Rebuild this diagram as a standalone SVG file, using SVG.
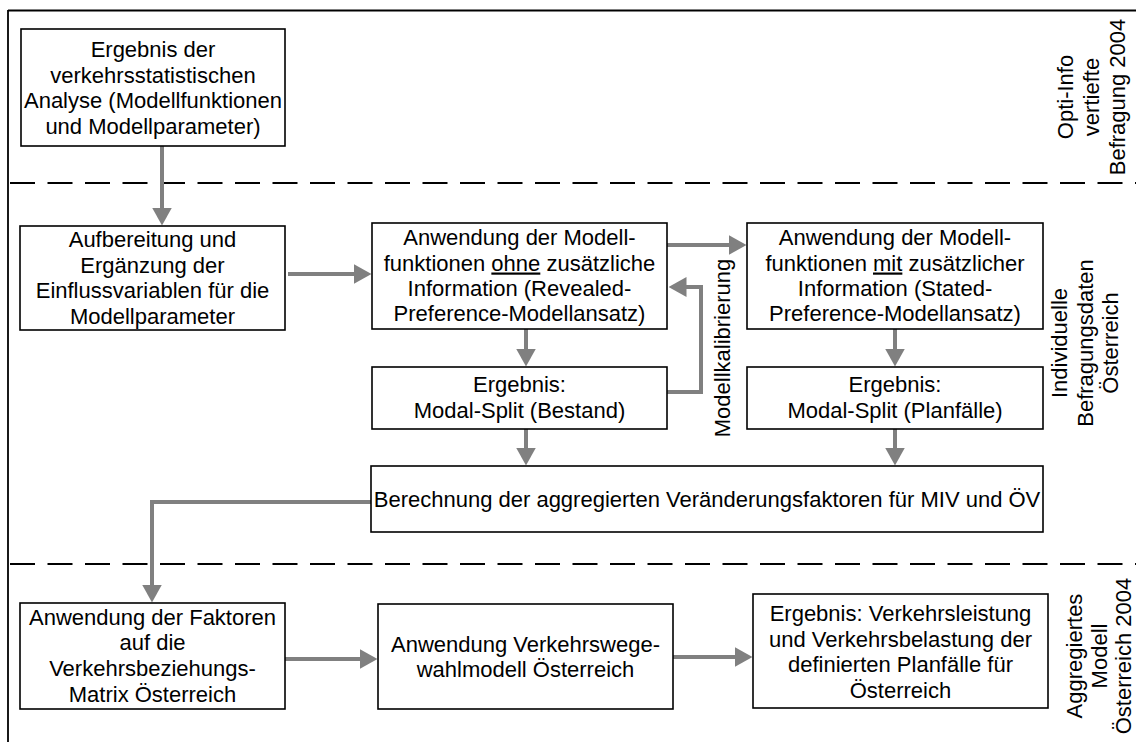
<svg xmlns="http://www.w3.org/2000/svg" width="1136" height="742" viewBox="0 0 1136 742">
<style>
  .box { fill: #ffffff; stroke: #000000; stroke-width: 1.6; }
  .t { font-family: "Liberation Sans", Arial, sans-serif; font-size: 22px; fill: #000000; text-anchor: middle; }
  .frame { stroke: #000000; stroke-width: 1.8; fill: none; }
  .dash { stroke: #000000; stroke-width: 1.8; fill: none; stroke-dasharray: 25 12.5; }
  .conn { stroke: #808080; stroke-width: 4; fill: none; marker-end: url(#ah); }
</style>
<defs>
  <marker id="ah" markerUnits="userSpaceOnUse" markerWidth="18" markerHeight="20" viewBox="0 0 18 20" refX="0.5" refY="10" orient="auto">
    <path d="M0,0 L18,10 L0,20 z" fill="#808080"/>
  </marker>
</defs>
<rect x="0" y="0" width="1136" height="742" fill="#ffffff"/>

<g id="frame">
  <line class="frame" x1="8" y1="10.5" x2="1136" y2="10.5"/>
  <line class="frame" x1="8" y1="10" x2="8" y2="742"/>
  <line class="dash" x1="10" y1="183" x2="1136" y2="183"/>
  <line class="dash" x1="10" y1="564" x2="1136" y2="564"/>
</g>

<g id="connectors">
  <path class="conn" d="M162,146 L162,208"/>
  <path class="conn" d="M288,274 L354,274"/>
  <path class="conn" d="M526,329 L526,349"/>
  <path class="conn" d="M667,392 L701,392 L701,287 L686,287"/>
  <path class="conn" d="M667,245 L729,245"/>
  <path class="conn" d="M895,329 L895,349"/>
  <path class="conn" d="M526,429 L526,448"/>
  <path class="conn" d="M895,429 L895,448"/>
  <path class="conn" d="M371,502 L152,502 L152,585"/>
  <path class="conn" d="M285,659 L360,659"/>
  <path class="conn" d="M673,657 L735,657"/>
  <text class="t" transform="translate(730,348) rotate(-90)" x="0" y="0">Modellkalibrierung</text>
</g>

<g id="n1">
  <rect class="box" x="21" y="29" width="264" height="117"/>
  <text class="t" x="153" y="57">Ergebnis der</text>
  <text class="t" x="153" y="82.5">verkehrsstatistischen</text>
  <text class="t" x="153" y="108">Analyse (Modellfunktionen</text>
  <text class="t" x="153" y="133.5">und Modellparameter)</text>
</g>

<g id="n2">
  <rect class="box" x="20" y="226" width="265" height="104"/>
  <text class="t" x="152.5" y="247">Aufbereitung und</text>
  <text class="t" x="152.5" y="272.5">Ergänzung der</text>
  <text class="t" x="152.5" y="298">Einflussvariablen für die</text>
  <text class="t" x="152.5" y="323.5">Modellparameter</text>
</g>

<g id="n3">
  <rect class="box" x="372" y="223" width="295" height="106"/>
  <text class="t" x="519.5" y="245">Anwendung der Modell-</text>
  <text class="t" x="519.5" y="270.5">funktionen <tspan text-decoration="underline">ohne</tspan> zusätzliche</text>
  <text class="t" x="519.5" y="296">Information (Revealed-</text>
  <text class="t" x="519.5" y="321">Preference-Modellansatz)</text>
</g>

<g id="n4">
  <rect class="box" x="372" y="367" width="295" height="62"/>
  <text class="t" x="519.5" y="392">Ergebnis:</text>
  <text class="t" x="519.5" y="417.5">Modal-Split (Bestand)</text>
</g>

<g id="n5">
  <rect class="box" x="747" y="223" width="296" height="106"/>
  <text class="t" x="895" y="245">Anwendung der Modell-</text>
  <text class="t" x="895" y="270.5">funktionen <tspan text-decoration="underline">mit</tspan> zusätzlicher</text>
  <text class="t" x="895" y="296">Information (Stated-</text>
  <text class="t" x="895" y="321">Preference-Modellansatz)</text>
</g>

<g id="n6">
  <rect class="box" x="747" y="367" width="296" height="62"/>
  <text class="t" x="895" y="392">Ergebnis:</text>
  <text class="t" x="895" y="417.5">Modal-Split (Planfälle)</text>
</g>

<g id="n7">
  <rect class="box" x="371" y="466" width="672" height="66"/>
  <text class="t" x="707" y="506.5">Berechnung der aggregierten Veränderungsfaktoren für MIV und ÖV</text>
</g>

<g id="n8">
  <rect class="box" x="20" y="603" width="265" height="106"/>
  <text class="t" x="152.5" y="624.5">Anwendung der Faktoren</text>
  <text class="t" x="152.5" y="650">auf die</text>
  <text class="t" x="152.5" y="676">Verkehrsbeziehungs-</text>
  <text class="t" x="152.5" y="701.5">Matrix Österreich</text>
</g>

<g id="n9">
  <rect class="box" x="378" y="604" width="295" height="105"/>
  <text class="t" x="525.5" y="651.5">Anwendung Verkehrswege-</text>
  <text class="t" x="525.5" y="677">wahlmodell Österreich</text>
</g>

<g id="n10">
  <rect class="box" x="753" y="594" width="295" height="114"/>
  <text class="t" x="900.5" y="621">Ergebnis: Verkehrsleistung</text>
  <text class="t" x="900.5" y="646.5">und Verkehrsbelastung der</text>
  <text class="t" x="900.5" y="672">definierten Planfälle für</text>
  <text class="t" x="900.5" y="697.5">Österreich</text>
</g>

<g id="lane1">
  <text class="t" transform="translate(1073,97) rotate(-90)">Opti-Info</text>
  <text class="t" transform="translate(1099,97) rotate(-90)">vertiefte</text>
  <text class="t" transform="translate(1125,97) rotate(-90)">Befragung 2004</text>
</g>
<g id="lane2">
  <text class="t" transform="translate(1067,343) rotate(-90)">Individuelle</text>
  <text class="t" transform="translate(1093,343) rotate(-90)">Befragungsdaten</text>
  <text class="t" transform="translate(1118,343) rotate(-90)">Österreich</text>
</g>
<g id="lane3">
  <text class="t" transform="translate(1082,656) rotate(-90)">Aggregiertes</text>
  <text class="t" transform="translate(1107,656) rotate(-90)">Modell</text>
  <text class="t" transform="translate(1131,656) rotate(-90)">Österreich 2004</text>
</g>
</svg>
